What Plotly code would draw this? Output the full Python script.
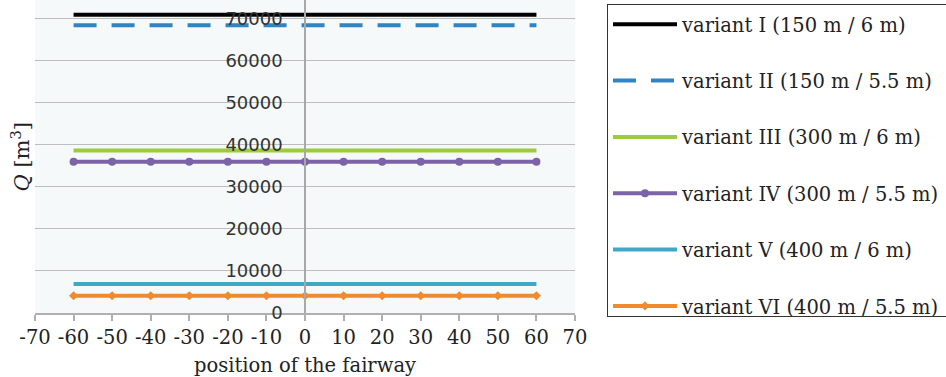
import plotly.graph_objects as go

positions = [-60, -50, -40, -30, -20, -10, 0, 10, 20, 30, 40, 50, 60]
v1 = [71000, 71000, 71000, 71000, 71000, 71000, 71000, 71000, 71000, 71000, 71000, 71000, 71000]
v2 = [68500, 68500, 68500, 68500, 68500, 68500, 68500, 68500, 68500, 68500, 68500, 68500, 68500]
v3 = [38700, 38700, 38700, 38700, 38700, 38700, 38700, 38700, 38700, 38700, 38700, 38700, 38700]
v4 = [36000, 36000, 36000, 36000, 36000, 36000, 36000, 36000, 36000, 36000, 36000, 36000, 36000]
v5 = [6900, 6900, 6900, 6900, 6900, 6900, 6900, 6900, 6900, 6900, 6900, 6900, 6900]
v6 = [4100, 4100, 4100, 4100, 4100, 4100, 4100, 4100, 4100, 4100, 4100, 4100, 4100]
names = ["variant I (150 m / 6 m)", "variant II (150 m / 5.5 m)", "variant III (300 m / 6 m)",
         "variant IV (300 m / 5.5 m)", "variant V (400 m / 6 m)", "variant VI (400 m / 5.5 m)"]
x_ticks = [-70, -60, -50, -40, -30, -20, -10, 0, 10, 20, 30, 40, 50, 60, 70]
y_ticks = [0, 10000, 20000, 30000, 40000, 50000, 60000, 70000]

SERIF = "DejaVu Serif"
fig = go.Figure()
specs = [
    (v1, dict(color="#000000", width=4), None, "lines"),
    (v2, dict(color="#2f84c6", width=4, dash="23px,15px"), None, "lines"),
    (v3, dict(color="#9ccb3b", width=4), None, "lines"),
    (v4, dict(color="#7c62a8", width=4), dict(symbol="circle", size=8, color="#7c62a8"), "lines+markers"),
    (v5, dict(color="#3fa9c5", width=4), None, "lines"),
    (v6, dict(color="#ef8a2f", width=4), dict(symbol="diamond", size=7, color="#ef8a2f"), "lines+markers"),
]
for i, (vals, line, marker, mode) in enumerate(specs):
    kw = dict(x=positions, y=vals, name=names[i], mode=mode, line=line, legendgroup=f"g{i}")
    if marker is not None:
        kw["marker"] = marker
    fig.add_trace(go.Scatter(**kw))

fig.update_layout(
    width=946, height=377,
    margin=dict(l=35, r=371, t=0, b=64),
    paper_bgcolor="white",
    plot_bgcolor="#f6f9f9",
    showlegend=True,
    legend=dict(
        x=(607 - 35) / 540, xanchor="left", y=(313 - 4) / 313, yanchor="top",
        bordercolor="#333333", borderwidth=1, bgcolor="white",
        font=dict(family=SERIF, size=19.5, color="#222222"),
        tracegroupgap=28, itemwidth=64,
    ),
    xaxis=dict(
        range=[-70, 70], tickvals=x_ticks, ticktext=[str(t) for t in x_ticks],
        showgrid=False, zeroline=False, showline=True, linecolor="#b0b0b0", linewidth=1.5,
        ticks="outside", ticklen=6, tickcolor="#b0b0b0", tickwidth=1.5,
        tickfont=dict(family=SERIF, size=19.5, color="#222222"),
        title=dict(text="position of the fairway", font=dict(family=SERIF, size=19.5, color="#222222"), standoff=10),
        domain=[0, 1],
    ),
    yaxis=dict(
        range=[0, 74500], tickvals=y_ticks, ticktext=[str(t) for t in y_ticks],
        showgrid=True, gridcolor="#bdbdbd", gridwidth=1.2, zeroline=False,
        showline=True, linecolor="#a8a8a8", linewidth=1.5,
        anchor="free", position=0.5, ticks="",
        tickfont=dict(family="DejaVu Sans", size=18, color="#333333"),
        ticklabelstandoff=18,
    ),
    annotations=[dict(
        text="<i>Q</i> [m<sup>3</sup>]", xref="paper", yref="paper", x=(20 - 35) / 540, y=0.5,
        xanchor="center", yanchor="middle",
        textangle=-90, showarrow=False, font=dict(family=SERIF, size=21, color="#222222"),
    )],
)

fig.write_html("out.html")
